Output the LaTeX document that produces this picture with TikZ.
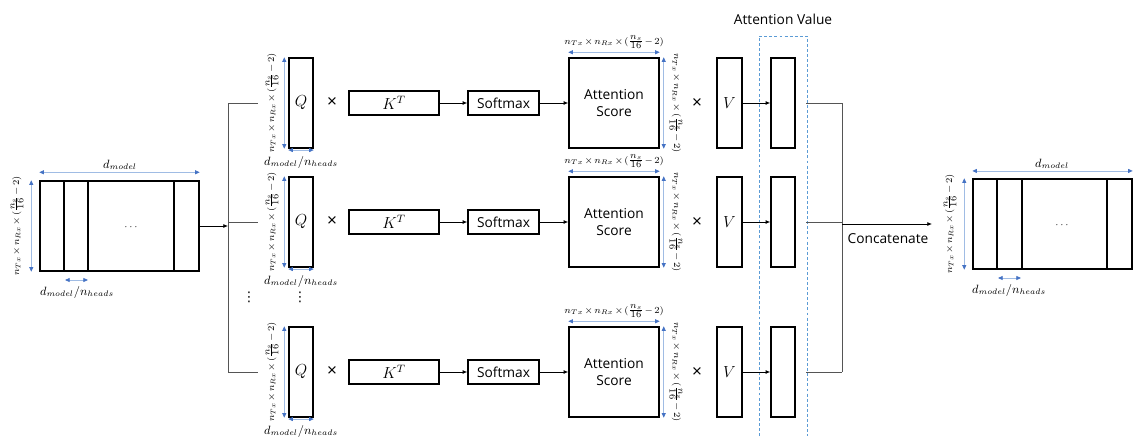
\documentclass[tikz,border=0pt]{standalone}
\usepackage{fontspec}
\newfontfamily\sansf{Open Sans}
\newfontfamily\dejavu{DejaVu Sans}
\usetikzlibrary{fit,arrows.meta}
\definecolor{dimline}{RGB}{160,188,228}
\definecolor{dimtip}{RGB}{68,114,196}
\definecolor{dashc}{RGB}{91,155,213}
\definecolor{grayline}{RGB}{85,85,85}
\newcommand{\dimlab}{\medmuskip=2mu $n_{Tx}\times n_{Rx}\times(\frac{\textstyle n_s}{\textstyle 16}-2)$}
\newcommand{\headlab}{$d_{model}/n_{heads}$}
\begin{document}
\begin{tikzpicture}[x=0.75pt,y=-0.75pt,
  box/.style={draw, line width=1.1pt, inner sep=0pt},
  conn/.style={line width=0.6pt},
  arr/.style={conn, -{Latex[length=3.5pt,width=3pt]}},
  dim/.style={draw=dimline, line width=0.6pt, {Triangle[length=3.5pt,width=3pt,color=dimtip]}-{Triangle[length=3.5pt,width=3pt,color=dimtip]}},
  dimtext/.style={font=\fontsize{6.8}{8}\selectfont, inner sep=0pt},
  dtext/.style={font=\fontsize{8.6}{10}\selectfont, inner sep=0pt},
  lbl/.style={font=\sansf\fontsize{10.3}{13}\selectfont, align=center, inner sep=0pt},
  mathbig/.style={font=\fontsize{12}{14}\selectfont, inner sep=0pt},
  timesmark/.style={font=\sansf\fontsize{13}{13}\selectfont, inner sep=0pt},
  vdotsmark/.style={font=\dejavu\fontsize{10}{10}\selectfont, inner sep=0pt},
  divider/.style={line width=1.1pt}
]
\useasboundingbox (0,0) rectangle (1134,436);

% left block
\node[box, fit={(40,181)(199,271)}] (L) {};
\draw[divider] (64,181) -- (64,271);
\draw[divider] (88,181) -- (88,271);
\draw[divider] (174,181) -- (174,271);
\node[font=\fontsize{7}{8}\selectfont, inner sep=0pt] (Ldots) at (131,227) {$\cdots$};
\draw[dim] ([yshift=6pt]L.north west) -- ([yshift=6pt]L.north east);
\node[dtext] (Ltop) at (120,165) {$d_{model}$};
\draw[dim] ([xshift=-6pt]L.north west) -- ([xshift=-6pt]L.south west);
\node[dimtext, rotate=90] (Lside) at (17,226) {\dimlab};
\draw[dim] (65,280) -- (88,280);
\node[dtext] (Lbot) at (77,292) {\headlab};

% buses
\coordinate (bin) at (228,226);
\coordinate (b1) at (228,103);
\coordinate (b3) at (228,372);
\draw[conn, grayline] (b1) -- (b3);
\draw[arr] (L) -- (bin);
\coordinate (c1) at (842,103);
\coordinate (c3) at (842,372);
\draw[conn, grayline] (c1) -- (c3);

% dashed attention value frame
\draw[dashc, dashed, dash pattern=on 2.2pt off 1.6pt, line width=0.6pt] (759,436) -- (759,36) -- (807,36) -- (807,436);
\node[lbl] (avlabel) at (783,19) {Attention Value};

\foreach \r/\i in {103/1,222/2,372/3}{
  \coordinate (bs\i) at (228,\r);
  \coordinate (be\i) at (258,\r);
  \draw[conn, grayline] (bs\i) -- (be\i);
  \node[box, fit={(289,\r-45)(313,\r+45)}] (q\i) {};
  \node[mathbig] (qt\i) at (q\i.center) {$Q$};
  \draw[dim] ([xshift=-3pt]q\i.north west) -- ([xshift=-3pt]q\i.south west);
  \node[dimtext, rotate=90] (qside\i) at (272,\r) {\dimlab};
  \draw[dim] ([yshift=-1pt]q\i.south west) -- ([yshift=-1pt]q\i.south east);
  \node[dtext] (qbot\i) at (301,\r+59) {\headlab};
  \node[timesmark] (x1\i) at (332,\r) {×};
  \node[box, fit={(349,\r-12)(439,\r+12)}] (k\i) {};
  \node[mathbig] (kt\i) at (k\i.center) {$K^T$};
  \node[box, fit={(468,\r-12)(539,\r+12)}] (s\i) {};
  \node[lbl] (st\i) at (s\i.center) {Softmax};
  \node[box, fit={(569,\r-45)(659,\r+45)}] (a\i) {};
  \node[lbl] (at\i) at (a\i.center) {Attention\\Score};
  \draw[dim] ([yshift=3.75pt]a\i.north west) -- ([yshift=3.75pt]a\i.north east);
  \node[dimtext] (atop\i) at (614,\r-61) {\dimlab};
  \draw[dim] ([xshift=3pt]a\i.north east) -- ([xshift=3pt]a\i.south east);
  \node[dimtext, rotate=-90] (aside\i) at (676,\r) {\dimlab};
  \node[timesmark] (x2\i) at (697,\r+1) {×};
  \node[box, fit={(717,\r-45)(742,\r+45)}] (v\i) {};
  \node[mathbig] (vt\i) at (v\i.center) {$V$};
  \node[box, fit={(771,\r-45)(795,\r+45)}] (av\i) {};
  \draw[arr] (k\i) -- (s\i);
  \draw[arr] (s\i) -- (a\i);
  \draw[arr] (v\i) -- (av\i);
  \coordinate (o\i) at (806,\r);
  \coordinate (ce\i) at (842,\r);
  \draw[conn, grayline] (o\i) -- (ce\i);
}

% vertical ellipses
\node[vdotsmark] (vd1) at (249,297) {⋮};
\node[vdotsmark] (vd2) at (300,297) {⋮};

% concatenate
\coordinate (cm) at (842,224);
\coordinate (cend) at (932,224);
\draw[arr] (cm) -- (cend);
\node[lbl] (concat) at (888,239) {Concatenate};

% right block
\node[box, fit={(973,179)(1132,269)}] (R) {};
\draw[divider] (997,179) -- (997,269);
\draw[divider] (1022,179) -- (1022,269);
\draw[divider] (1107,179) -- (1107,269);
\node[font=\fontsize{7}{8}\selectfont, inner sep=0pt] (Rdots) at (1062,225) {$\cdots$};
\draw[dim] ([yshift=5.5pt]R.north west) -- ([yshift=5.5pt]R.north east);
\node[dtext] (Rtop) at (1052,164) {$d_{model}$};
\draw[dim] ([xshift=-6pt]R.north west) -- ([xshift=-6pt]R.south west);
\node[dimtext, rotate=90] (Rside) at (950,224) {\dimlab};
\draw[dim] (998,278) -- (1021,278);
\node[dtext] (Rbot) at (1009,290) {\headlab};
\end{tikzpicture}
\end{document}
